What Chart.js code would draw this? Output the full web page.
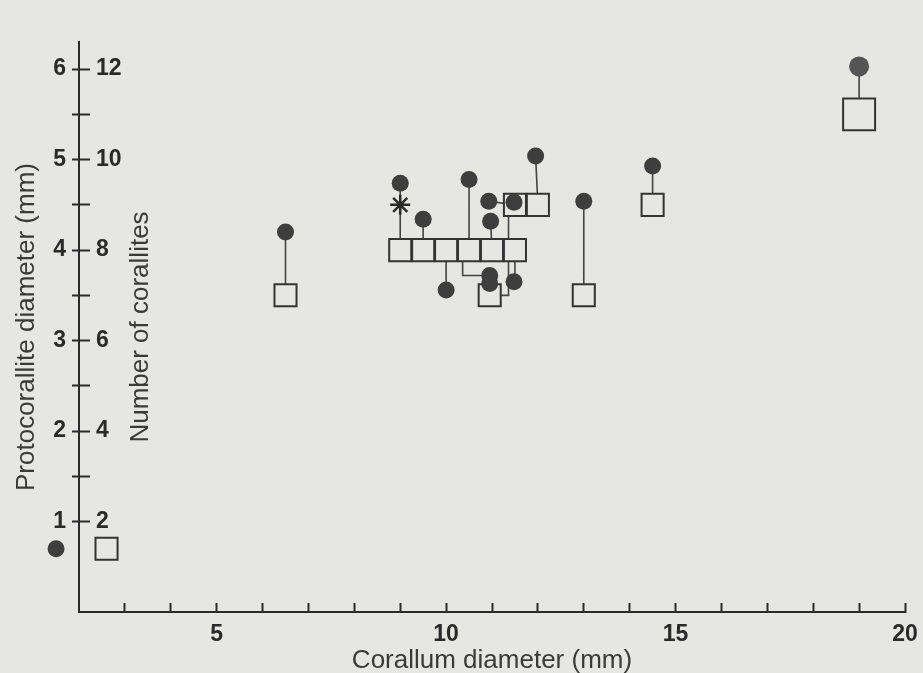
<!DOCTYPE html>
<html>
<head>
<meta charset="utf-8">
<script src="https://cdn.jsdelivr.net/npm/chart.js@4.4.0/dist/chart.umd.min.js"></script>
<style>
	body { margin: 0; background: #e6e6e2; }
	canvas { display: block; }
</style>
</head>
<body>
<canvas id="myChart" width="923" height="673"></canvas>
<script>
// protocorallite diameter (filled dots)
var dotX = [1.5, 6.5, 9.0, 9.5, 10.0, 10.5, 10.97, 10.93, 11.48, 11.95, 10.95, 10.95, 11.48, 13.0, 14.5, 19.0];
var dotY = [0.7, 4.2, 4.74, 4.34, 3.56, 4.78, 4.32, 4.54, 4.53, 5.04, 3.72, 3.63, 3.65, 4.54, 4.93, 6.03];
// number of corallites (open squares)
var sqX = [2.6, 6.5, 9.0, 9.5, 10.0, 10.5, 11.0, 11.5, 11.5, 12.0, 10.95, 13.0, 14.5, 19.0];
var sqCount = [1.4, 7, 8, 8, 8, 8, 8, 8, 9, 9, 7, 7, 9, 11];
// asterisk specimen
var starX = [9.0];
var starY = [4.5];
// links: dot index, square index, elbow x (null = straight)
var links = [
	[1, 1, null], [2, 2, null], [3, 3, null], [4, 4, null], [5, 5, null],
	[6, 6, null], [7, 8, null], [8, 10, 11.36], [9, 9, null], [10, 5, 10.36],
	[11, 10, null], [12, 7, null], [13, 11, null], [14, 12, null], [15, 13, null]
];
var xTicks = [3, 4, 5, 6, 7, 8, 9, 10, 11, 12, 13, 14, 15, 16, 17, 18, 19, 20];
var xLabels = [5, 10, 15, 20];
var protoTicks = [1, 1.5, 2, 2.5, 3, 3.5, 4, 4.5, 5, 5.5, 6];
var countTicks = [2, 3, 4, 5, 6, 7, 8, 9, 10, 11, 12];

var ink = "#2a2a2a";
var paper = "#e6e6e2";
var fam = "'Liberation Sans', Arial, sans-serif";
var tickFont = { family: fam, size: 23, weight: "bold" };
var titleFont = { family: fam, size: 26, lineHeight: 0.9 };

var dots = dotX.map(function(x, i) { return { x: x, y: dotY[i] }; });
var squares = sqX.map(function(x, i) { return { x: x, y: sqCount[i] }; });
var stars = starX.map(function(x, i) { return { x: x, y: starY[i] }; });

var linkPts = [];
links.forEach(function(l) {
	var d = dots[l[0]];
	var sx = sqX[l[1]], sy = sqCount[l[1]] / 2;
	linkPts.push({ x: d.x, y: d.y });
	if (l[2] !== null) {
		linkPts.push({ x: l[2], y: d.y });
		linkPts.push({ x: l[2], y: sy });
	}
	linkPts.push({ x: sx, y: sy });
	linkPts.push({ x: sx, y: null });
});

function isBig(c) { return c.raw && c.raw.x > 18; }

// the library skips points left of the plot area, so draw those elements again
var outsidePoints = {
	id: "outsidePoints",
	afterDatasetsDraw: function(chart) {
		var full = { left: 0, top: 0, right: chart.width, bottom: chart.height };
		chart.getDatasetMeta(0).data.forEach(function(el) {
			if (el.x < chart.chartArea.left) el.draw(chart.ctx, full);
		});
	}
};

new Chart("myChart", {
	type: "scatter",
	data: {
		datasets: [{
			label: "Protocorallite diameter",
			data: dots,
			yAxisID: "y",
			clip: false,
			pointStyle: "circle",
			pointRadius: function(c) { return isBig(c) ? 10 : 8.5; },
			backgroundColor: function(c) { return isBig(c) ? "#555555" : "#3e3e3e"; },
			borderWidth: 0
		}, {
			label: "asterisk",
			data: stars,
			yAxisID: "y",
			pointStyle: "star",
			pointRadius: 10,
			borderColor: ink,
			borderWidth: 2.5
		}, {
			label: "Number of corallites",
			data: squares,
			yAxisID: "yR",
			clip: false,
			pointStyle: "rect",
			pointRadius: function(c) { return isBig(c) ? 22.6 : 15.6; },
			backgroundColor: paper,
			borderColor: "#333333",
			borderWidth: 2
		}, {
			type: "line",
			label: "links",
			data: linkPts,
			yAxisID: "y",
			showLine: true,
			spanGaps: false,
			pointRadius: 0,
			borderColor: "#444444",
			borderWidth: 1.6,
			fill: false
		}]
	},
	options: {
		responsive: false,
		animation: false,
		layout: { autoPadding: false, padding: { left: 0, right: 18, top: 42, bottom: 0 } },
		plugins: { legend: { display: false }, tooltip: { enabled: false } },
		scales: {
			x: {
				type: "linear", min: 2, max: 20,
				afterBuildTicks: function(s) { s.ticks = xTicks.map(function(v) { return { value: v }; }); },
				afterFit: function(s) { s.height = 61; s.paddingLeft = 0; s.paddingRight = 0; },
				grid: { drawOnChartArea: false, tickLength: -9, tickColor: ink, tickWidth: 2 },
				border: { color: ink, width: 2 },
				ticks: {
					autoSkip: false, maxRotation: 0, padding: 18, color: ink, font: tickFont,
					callback: function(v) { return xLabels.indexOf(v) >= 0 ? String(v) : ""; }
				},
				title: { display: true, text: "Corallum diameter (mm)", color: "#3a3a3a", font: titleFont, padding: { top: 0, bottom: 0 } }
			},
			y: {
				type: "linear", position: "left", min: 0, max: 6.3, weight: 1,
				afterBuildTicks: function(s) { s.ticks = protoTicks.map(function(v) { return { value: v }; }); },
				afterFit: function(s) { s.width = 79; },
				grid: { drawOnChartArea: false, tickLength: 7, tickColor: ink, tickWidth: 2 },
				border: { color: ink, width: 2 },
				ticks: {
					padding: 6, color: ink, font: tickFont,
					callback: function(v) { return Number.isInteger(v) ? String(v) : ""; }
				},
				title: { display: true, text: "Protocorallite diameter (mm)", color: "#3a3a3a", font: titleFont, padding: { top: 15, bottom: 0 } }
			},
			yR: {
				type: "linear", position: "left", min: 0, max: 12.6, weight: 0,
				afterBuildTicks: function(s) { s.ticks = countTicks.map(function(v) { return { value: v }; }); },
				afterFit: function(s) { s.width = 0; },
				grid: { drawOnChartArea: false, tickLength: -11, tickColor: ink, tickWidth: 2 },
				border: { display: false },
				ticks: {
					mirror: true, padding: 17, color: ink, font: tickFont,
					callback: function(v) { return v % 2 === 0 ? String(v) : ""; }
				},
				title: { display: true, text: "Number of corallites", color: "#3a3a3a", font: titleFont, padding: { top: 50, bottom: 0 } }
			}
		}
	},
	plugins: [outsidePoints]
});
</script>
</body>
</html>
